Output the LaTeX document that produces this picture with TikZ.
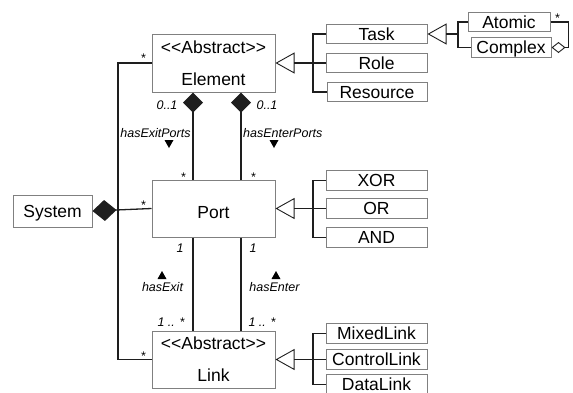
\documentclass[tikz,border=0pt]{standalone}
\usepackage{fontspec}
\setmainfont{Liberation Sans}
\usetikzlibrary{arrows.meta}
\definecolor{boxgray}{HTML}{808080}
\definecolor{linkc}{HTML}{1E1E1E}

\begin{document}
\begin{tikzpicture}[x=1pt,y=-1pt,
  classbox/.style={draw=boxgray, line width=1pt, inner sep=0pt, minimum width=123pt,
    font=\fontsize{17.5}{32}\selectfont, align=center},
  box/.style={draw=boxgray, line width=1pt, inner sep=0pt, minimum height=19.5pt,
    font=\fontsize{17.5}{21}\selectfont, text height=12.5pt, text depth=0pt},
  conn/.style={draw=linkc, line width=1.3pt},
  gen/.style={-{Triangle[open, length=19pt, width=21pt, line width=0.9pt]}},
  comp/.style={-{Diamond[length=20pt, width=20pt]}},
  agg/.style={-{Diamond[open, length=14pt, width=11pt, line width=0.9pt]}},
  lab/.style={inner sep=0pt, anchor=base, font=\fontsize{12.5}{14}\selectfont\itshape},
  dir/.style={fill=black}]
\useasboundingbox (0,0) rectangle (573,392);

% main classes
\node[classbox, minimum height=58pt] (element) at (213.5,63)
  {<\kern0pt<Abstract>\kern0pt>\\Element};
\node[classbox, minimum height=57pt, text height=19.5pt, text depth=0pt] (port) at (213.5,208.5) {Port};
\node[classbox, minimum height=57pt] (link) at (213.5,359.5)
  {<\kern0pt<Abstract>\kern0pt>\\Link};
\node[box, minimum width=79pt, minimum height=32pt] (system) at (52.5,211) {System};

% element subclasses
\node[box, minimum width=101pt] (task) at (376.5,34) {Task};
\node[box, minimum width=101pt] (role) at (376.5,63) {Role};
\node[box, minimum width=100pt] (resource) at (377,92) {Resource};
\node[box, minimum width=82pt] (atomic) at (509,22) {Atomic};
\node[box, minimum width=80pt] (complex) at (511,47.5) {Complex};

% port subclasses
\node[box, minimum width=101pt] (xor) at (376.5,180.5) {XOR};
\node[box, minimum width=101pt] (or) at (376.5,208.5) {OR};
\node[box, minimum width=101pt] (and) at (376.5,237.5) {AND};

% link subclasses
\node[box, minimum width=101pt] (mixed) at (376.5,333.5) {MixedLink};
\node[box, minimum width=101pt] (control) at (376.5,359.5) {ControlLink};
\node[box, minimum width=101pt] (data) at (376.5,384.5) {DataLink};

% generalisation buses
\coordinate (bus1) at (313,63);
\coordinate (bus2) at (458,34);
\coordinate (bus3) at (313,208.5);
\coordinate (bus4) at (313,359.5);

\draw[conn] (task.west) -| (bus1) |- (resource.west);
\draw[conn] (role.west) -- (bus1);
\draw[conn, gen] (bus1) -- (element.east);

\draw[conn] (atomic.west) -| (bus2) |- (complex.west);
\draw[conn, gen] (bus2) -- (task.east);

\draw[conn] (xor.west) -| (bus3) |- (and.west);
\draw[conn] (or.west) -- (bus3);
\draw[conn, gen] (bus3) -- (port.east);

\draw[conn] (mixed.west) -| (bus4) |- (data.west);
\draw[conn] (control.west) -- (bus4);
\draw[conn, gen] (bus4) -- (link.east);

% atomic / complex aggregation
\draw[conn, agg] (atomic.east) -- ++(18,0) |- (complex.east);

% system composition and containment line
\coordinate (lbus) at (118,0);
\draw[conn, -{Diamond[length=24pt, width=21pt]}] (port.west) -- (system.east);
\draw[conn] (element.west) -- (element.west -| lbus) -- (link.west -| lbus) -- (link.west);

% element / port / link associations
\coordinate (xa) at (193,0);
\coordinate (xb) at (241,0);
\draw[conn, comp] (port.north -| xa) -- (element.south -| xa);
\draw[conn, comp] (port.north -| xb) -- (element.south -| xb);
\draw[conn] (port.south -| xa) -- (link.north -| xa);
\draw[conn] (port.south -| xb) -- (link.north -| xb);

% multiplicities
\node[lab] (mElem) at (143,62) {*};
\node[lab] (mPort) at (143,209) {*};
\node[lab] (mLink) at (143,360) {*};
\node[lab] (mExitP) at (183,181) {*};
\node[lab] (mEnterP) at (253,181) {*};
\node[lab] (mAtomic) at (557,22) {*};
\node[lab] (mExitE) at (167,109.5) {0..1};
\node[lab] (mEnterE) at (267,109.5) {0..1};
\node[lab] (mExitPort) at (180,252) {1};
\node[lab] (mEnterPort) at (253,252) {1};
\node[lab] (mExitLink) at (171,326) {1 .. *};
\node[lab] (mEnterLink) at (262,326) {1 .. *};

% role names with reading direction
\node[lab] (hexp) at (155.5,137.5) {hasExitPorts};
\node[lab, anchor=base west] (henp) at (243,137.5) {hasEnterPorts};
\node[lab] (hex) at (162.5,291) {hasExit};
\node[lab] (hen) at (274.5,291) {hasEnter};

\coordinate (d1) at (169,144);
\coordinate (d2) at (274,144);
\coordinate (u1) at (162,275);
\coordinate (u2) at (276,275);
\fill[dir] (d1) ++(-4.5,-4) -- ++(9,0) -- ++(-4.5,8) -- cycle;
\fill[dir] (d2) ++(-4.5,-4) -- ++(9,0) -- ++(-4.5,8) -- cycle;
\fill[dir] (u1) ++(-4.5,4) -- ++(9,0) -- ++(-4.5,-8) -- cycle;
\fill[dir] (u2) ++(-4.5,4) -- ++(9,0) -- ++(-4.5,-8) -- cycle;
\end{tikzpicture}
\end{document}
